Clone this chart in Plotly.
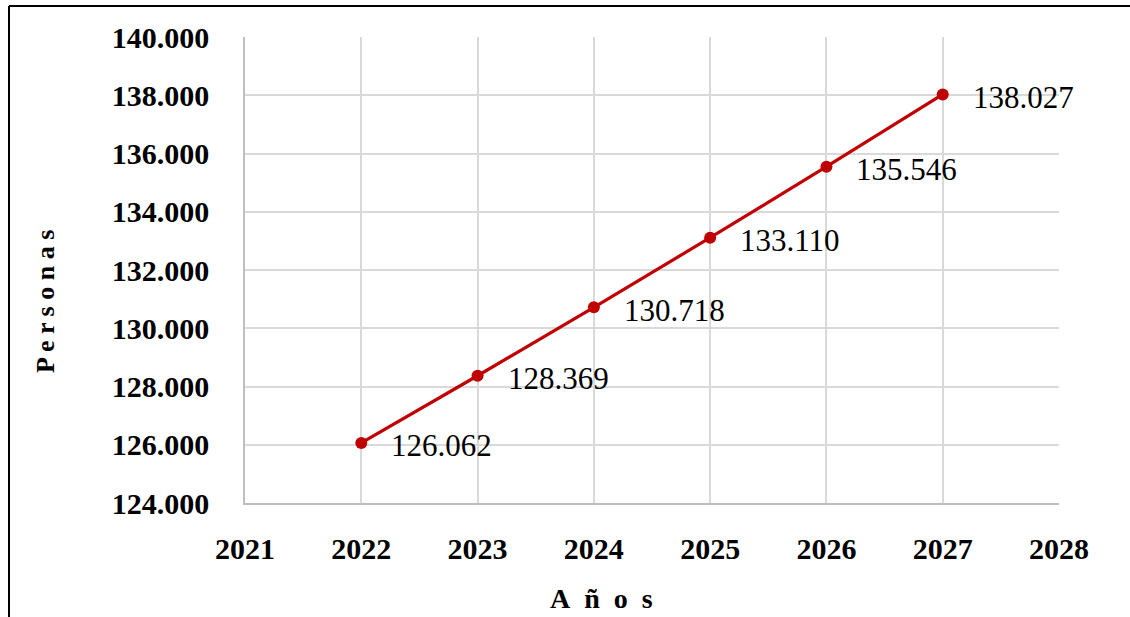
import plotly.graph_objects as go

years = [2022, 2023, 2024, 2025, 2026, 2027]
personas = [126062, 128369, 130718, 133110, 135546, 138027]
y_ticks = [124000, 126000, 128000, 130000, 132000, 134000, 136000, 138000, 140000]
x_ticks = [2021, 2022, 2023, 2024, 2025, 2026, 2027, 2028]

SERIF = "Liberation Serif, Times New Roman, serif"

def fmt(v):
    return f"{v:,}".replace(",", ".")

fig = go.Figure()
fig.add_trace(go.Scatter(
    x=years, y=personas, mode="lines+markers",
    line=dict(color="#c00000", width=3.2),
    marker=dict(color="#c00000", size=12),
    showlegend=False, cliponaxis=False,
))

for x, y in zip(years, personas):
    fig.add_annotation(x=x, y=y, text=fmt(y), showarrow=False,
                       xanchor="left", yanchor="middle", xshift=28, yshift=-3,
                       font=dict(family=SERIF, size=31, color="black"))

fig.add_annotation(xref="paper", yref="paper", x=(601-245)/814, y=-(598-503)/466,
                   text="<b>A\u2002ñ\u2002o\u2002s</b>", showarrow=False,
                   xanchor="center", yanchor="middle",
                   font=dict(family=SERIF, size=28, color="black"))
fig.add_annotation(xref="paper", yref="paper", x=-(245-45)/814, y=(503-302)/466,
                   text="<b>P e r s o n a s</b>", showarrow=False, textangle=-90,
                   xanchor="center", yanchor="middle",
                   font=dict(family=SERIF, size=26, color="black"))

# frame lines (left and top)
fig.add_shape(type="line", xref="paper", yref="paper",
              x0=-(245-9)/814, x1=(1135-245)/814, y0=(503-6)/466, y1=(503-6)/466,
              line=dict(color="black", width=2))
fig.add_shape(type="line", xref="paper", yref="paper",
              x0=-(245-9)/814, x1=-(245-9)/814, y0=(503-6)/466, y1=-(625-503)/466,
              line=dict(color="black", width=2))

fig.update_layout(
    width=1130, height=617,
    margin=dict(l=245, r=71, t=37, b=114),
    paper_bgcolor="white", plot_bgcolor="white",
    font=dict(family=SERIF, color="black"),
    xaxis=dict(range=[2021, 2028], tickvals=x_ticks,
               ticktext=[f"<b>{t}</b>" for t in x_ticks],
               showgrid=True, gridcolor="#d9d9d9", gridwidth=1.5,
               showline=True, linecolor="#bfbfbf", linewidth=1.5,
               zeroline=False, ticks="", ticklabelstandoff=18,
               tickfont=dict(family=SERIF, size=30, color="black")),
    yaxis=dict(range=[124000, 140000], tickvals=y_ticks,
               ticktext=[f"<b>{fmt(t)}</b>" for t in y_ticks],
               showgrid=True, gridcolor="#d9d9d9", gridwidth=1.5,
               showline=True, linecolor="#bfbfbf", linewidth=1.5,
               zeroline=False, ticks="", ticklabelstandoff=28,
               tickfont=dict(family=SERIF, size=30, color="black")),
)

fig.write_html("out.html", config={"displayModeBar": False},
               post_script="document.body.style.margin='0';")
